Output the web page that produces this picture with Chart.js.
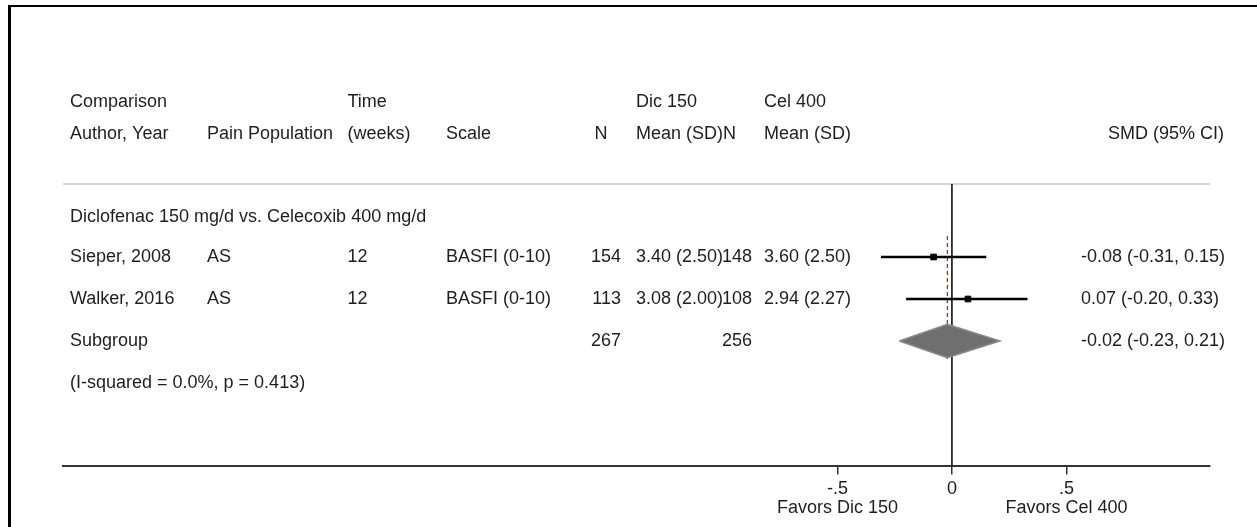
<!DOCTYPE html>
<html>
<head>
<meta charset="utf-8">
<script src="https://cdn.jsdelivr.net/npm/chart.js@4.4.1/dist/chart.umd.min.js"></script>
<style>
  html, body { margin: 0; padding: 0; background: #fff; }
  #wrap { position: relative; width: 1257px; height: 527px; background: #fff; }
  #frame { position: absolute; left: 8px; top: 5px; right: 0; bottom: 0;
           border-top: 2px solid #000; border-left: 3px solid #000; pointer-events: none; }
</style>
</head>
<body>
<div id="wrap">
  <canvas id="c"></canvas>
  <div id="frame"></div>
</div>
<script>
// ---------------- data ----------------
const groupLabel = "Diclofenac 150 mg/d vs. Celecoxib 400 mg/d";
const studies    = ["Sieper, 2008", "Walker, 2016"];
const population = ["AS", "AS"];
const weeks      = ["12", "12"];
const scaleNames = ["BASFI (0-10)", "BASFI (0-10)"];
const nDic       = [154, 113];
const meanSdDic  = ["3.40 (2.50)", "3.08 (2.00)"];
const nCel       = [148, 108];
const meanSdCel  = ["3.60 (2.50)", "2.94 (2.27)"];
const smd        = [-0.08, 0.07];
const smdLow     = [-0.31, -0.20];
const smdHigh    = [0.15, 0.33];
const pooledSmd  = -0.02;
const pooledLow  = -0.23;
const pooledHigh = 0.21;
const pooledNDic = 267;
const pooledNCel = 256;
const heterogeneity = "(I-squared = 0.0%, p = 0.413)";
const xTickValues = [-0.5, 0, 0.5];
const xTickLabels = ["-.5", "0", ".5"];
const xSideLabels = ["Favors Dic 150", "", "Favors Cel 400"];

// ---------------- layout (rows in row units, columns in px) ----------------
const ROW_HEAD1 = -1.70, ROW_HEAD2 = -0.92, ROW_GROUP = 1.04;
const ROW_STUDY = [2, 3], ROW_POOLED = 4, ROW_HET = 5;
const Y_MIN = 0.262, Y_MAX = 6.964;
const X_MIN = -3.882, X_MAX = 1.127;
const DIAMOND_HALF = 0.40;
const COL = { author: 70, pop: 207, time: 347.5, scale: 446, nHead: 594.6, nDicR: 621,
              dic: 636, nCelR: 752, cel: 764, smd: 1081, smdHeadR: 1224 };
const FONT = '18px "Liberation Sans", Arial, Helvetica, sans-serif';
const TXT = '#1e1e1e';

const fmt = v => v.toFixed(2);

// ---------------- datasets ----------------
const datasets = [];
datasets.push({
  label: 'pooled', order: 0, showLine: true, pointRadius: 0,
  data: [
    {x: pooledLow, y: ROW_POOLED},
    {x: pooledSmd, y: ROW_POOLED - DIAMOND_HALF},
    {x: pooledHigh, y: ROW_POOLED},
    {x: pooledSmd, y: ROW_POOLED + DIAMOND_HALF},
    {x: pooledLow, y: ROW_POOLED}
  ],
  fill: 'shape', backgroundColor: '#6f6f6f', borderColor: '#8c8c8c', borderWidth: 1.5, tension: 0
});
datasets.push({
  label: 'est', order: 1, showLine: false,
  data: smd.map((v, i) => ({x: v, y: ROW_STUDY[i]})),
  pointStyle: 'rect', pointRadius: 4, backgroundColor: '#000', borderColor: '#000', borderWidth: 1
});
smd.forEach((v, i) => {
  datasets.push({
    label: 'ci' + i, order: 2, showLine: true, pointRadius: 0,
    data: [{x: smdLow[i], y: ROW_STUDY[i]}, {x: smdHigh[i], y: ROW_STUDY[i]}],
    borderColor: '#000', borderWidth: 2.6
  });
});
datasets.push({
  label: 'overall', order: 3, showLine: true, pointRadius: 0,
  data: [{x: pooledSmd, y: ROW_STUDY[0] - 0.5}, {x: pooledSmd, y: ROW_POOLED + 0.43}],
  borderColor: '#a02020', borderWidth: 1.2, borderDash: [4, 3]
});
datasets.push({
  label: 'null', order: 4, showLine: true, pointRadius: 0,
  data: [{x: 0, y: Y_MIN}, {x: 0, y: Y_MAX}],
  borderColor: '#000', borderWidth: 1.5
});

// ---------------- text plugin ----------------
const textPlugin = {
  id: 'forestText',
  beforeDatasetsDraw(chart) {
    const {ctx, chartArea} = chart;
    ctx.save();
    ctx.strokeStyle = '#c8c8c8';
    ctx.lineWidth = 1.5;
    ctx.beginPath();
    ctx.moveTo(chartArea.left, chartArea.top);
    ctx.lineTo(chartArea.right, chartArea.top);
    ctx.stroke();
    ctx.restore();
  },
  afterDraw(chart) {
    const {ctx} = chart;
    const ys = chart.scales.y;
    const Y = r => ys.getPixelForValue(r);
    ctx.save();
    ctx.font = FONT;
    ctx.fillStyle = TXT;
    ctx.textBaseline = 'middle';
    const L = (t, x, r) => { ctx.textAlign = 'left'; ctx.fillText(t, x, Y(r)); };
    const R = (t, x, r) => { ctx.textAlign = 'right'; ctx.fillText(t, x, Y(r)); };
    L("Comparison", COL.author, ROW_HEAD1);
    L("Time", COL.time, ROW_HEAD1);
    L("Dic 150", COL.dic, ROW_HEAD1);
    L("Cel 400", COL.cel, ROW_HEAD1);
    L("Author, Year", COL.author, ROW_HEAD2);
    L("Pain Population", COL.pop, ROW_HEAD2);
    L("(weeks)", COL.time, ROW_HEAD2);
    L("Scale", COL.scale, ROW_HEAD2);
    L("N", COL.nHead, ROW_HEAD2);
    L("Mean (SD)N", COL.dic, ROW_HEAD2);
    L("Mean (SD)", COL.cel, ROW_HEAD2);
    R("SMD (95% CI)", COL.smdHeadR, ROW_HEAD2);
    L(groupLabel, COL.author, ROW_GROUP);
    studies.forEach((s, i) => {
      const r = ROW_STUDY[i];
      L(s, COL.author, r);
      L(population[i], COL.pop, r);
      L(weeks[i], COL.time, r);
      L(scaleNames[i], COL.scale, r);
      R(String(nDic[i]), COL.nDicR, r);
      L(meanSdDic[i], COL.dic, r);
      R(String(nCel[i]), COL.nCelR, r);
      L(meanSdCel[i], COL.cel, r);
      L(`${fmt(smd[i])} (${fmt(smdLow[i])}, ${fmt(smdHigh[i])})`, COL.smd, r);
    });
    L("Subgroup", COL.author, ROW_POOLED);
    R(String(pooledNDic), COL.nDicR, ROW_POOLED);
    R(String(pooledNCel), COL.nCelR, ROW_POOLED);
    L(`${fmt(pooledSmd)} (${fmt(pooledLow)}, ${fmt(pooledHigh)})`, COL.smd, ROW_POOLED);
    L(heterogeneity, COL.author, ROW_HET);
    ctx.restore();
  }
};

Chart.defaults.font.family = '"Liberation Sans", Arial, Helvetica, sans-serif';
Chart.defaults.font.size = 18;
Chart.defaults.color = TXT;

new Chart(document.getElementById('c'), {
  type: 'scatter',
  data: { datasets },
  options: {
    responsive: true,
    maintainAspectRatio: false,
    animation: false,
    layout: { padding: { left: 63, right: 47, top: 184, bottom: 0 } },
    plugins: { legend: { display: false }, tooltip: { enabled: false }, title: { display: false } },
    scales: {
      x: {
        type: 'linear', position: 'bottom', min: X_MIN, max: X_MAX,
        afterBuildTicks: s => { s.ticks = xTickValues.map(v => ({value: v})); },
        afterFit: s => { s.height = 61.5; },
        grid: { drawOnChartArea: false, drawTicks: true, tickLength: 9, color: '#333', lineWidth: 1.5 },
        border: { display: true, color: '#333', width: 2 },
        ticks: {
          autoSkip: false, maxRotation: 0, padding: 4.2,
          font: { size: 18, lineHeight: 1.1 }, color: TXT,
          callback: (v) => {
            const i = xTickValues.indexOf(v);
            if (i < 0) return '';
            return xSideLabels[i] ? [xTickLabels[i], xSideLabels[i]] : xTickLabels[i];
          }
        }
      },
      y: {
        type: 'linear', display: false, reverse: true, min: Y_MIN, max: Y_MAX
      }
    }
  },
  plugins: [textPlugin]
});
</script>
</body>
</html>
